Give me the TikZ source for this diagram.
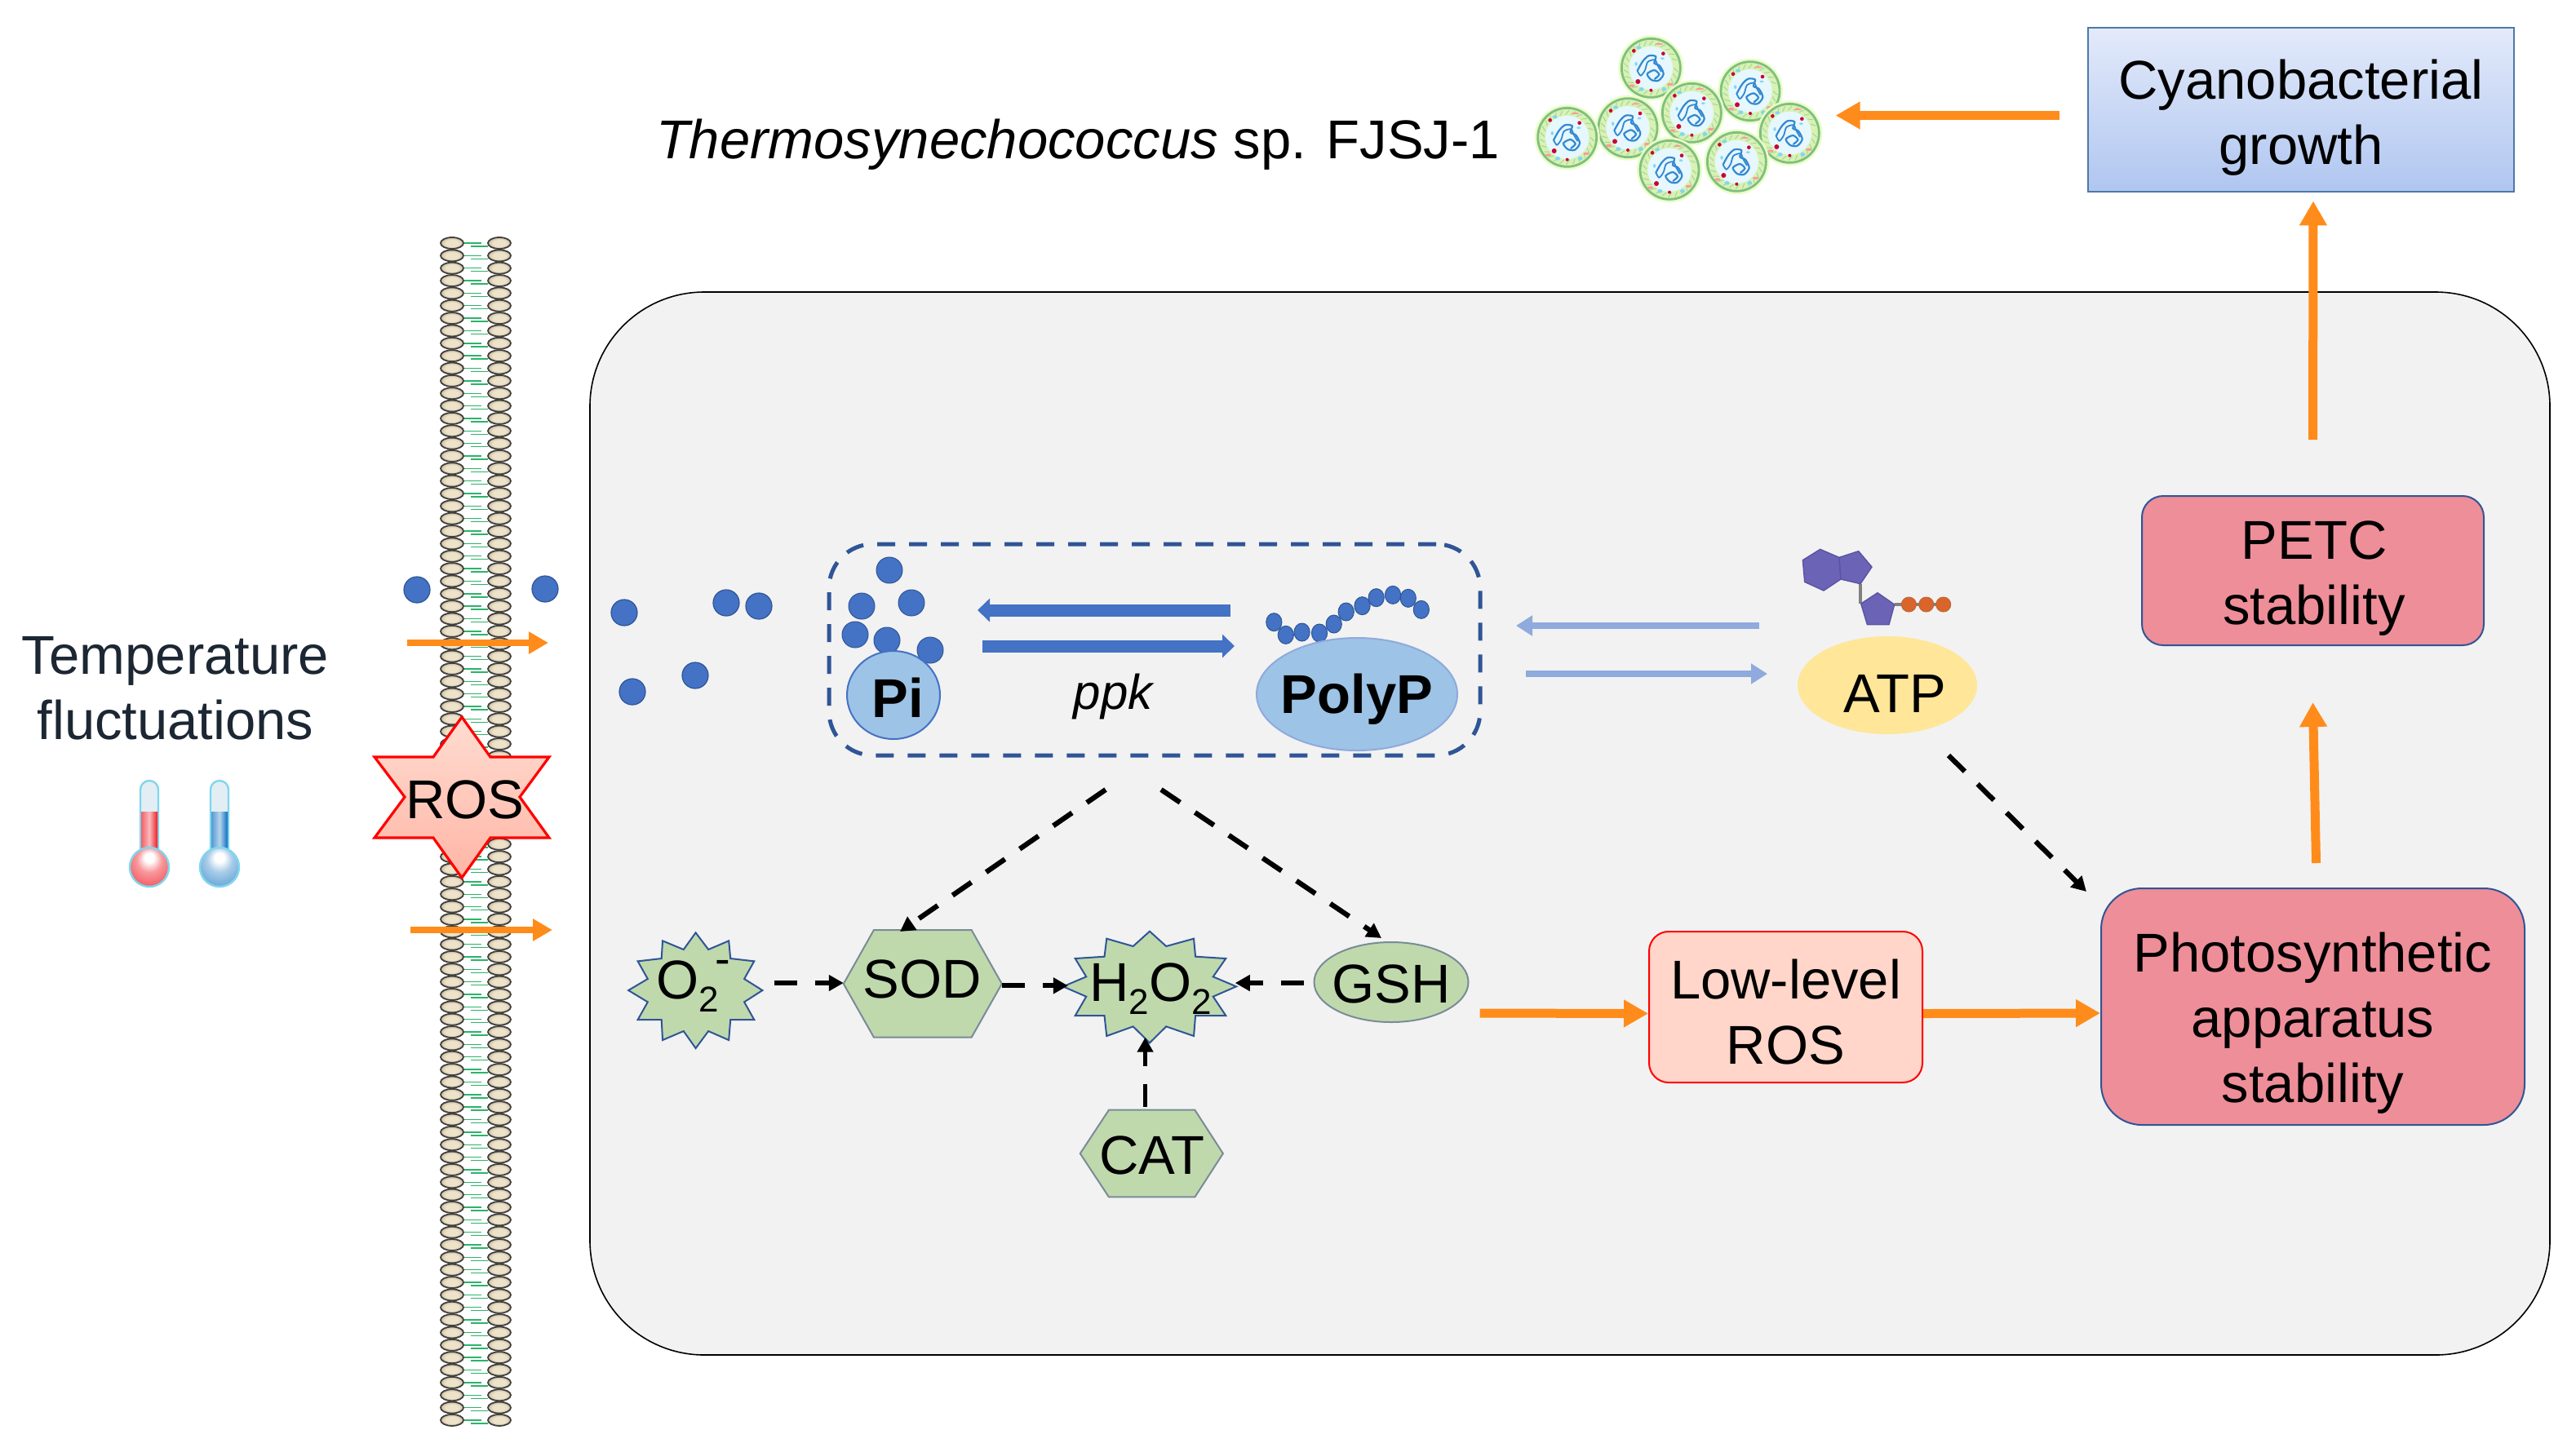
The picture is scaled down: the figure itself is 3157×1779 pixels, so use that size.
\documentclass[tikz,border=0pt]{standalone}
\usepackage{fontspec}
\setmainfont{Liberation Sans}
\usetikzlibrary{arrows.meta,calc,shapes.geometric}
\definecolor{cellgrey}{HTML}{F2F2F2}
\definecolor{flame}{HTML}{FF8C1A}
\definecolor{royal}{HTML}{4472C4}
\definecolor{navy}{HTML}{2F5597}
\definecolor{pale}{HTML}{8FAADC}
\definecolor{sky}{HTML}{9DC3E6}
\definecolor{leaf}{HTML}{BFD9AD}
\definecolor{rose}{HTML}{EE8E99}
\definecolor{peach}{HTML}{FFD6C9}
\definecolor{butter}{HTML}{FFE699}
\definecolor{ink}{HTML}{1C2733}
\definecolor{base}{HTML}{6B63B5}
\definecolor{baseedge}{HTML}{5A53A3}
\definecolor{phos}{HTML}{D9652B}
\definecolor{tubeglow}{HTML}{7FD7EE}
\definecolor{heat}{HTML}{EE1C25}
\definecolor{cold}{HTML}{0B6FBF}
\definecolor{tail}{HTML}{2DB36A}
\definecolor{beadmid}{HTML}{EDE3CB}
\definecolor{beadrim}{HTML}{AD9871}
\definecolor{skytop}{HTML}{E3EAFA}
\definecolor{skybottom}{HTML}{B0C6F0}
\definecolor{steel}{HTML}{4F79A8}
\pgfdeclareradialshading{redbulb}{\pgfpoint{0bp}{14bp}}{color(0bp)=(white);color(6bp)=(white);color(16bp)=(heat!45!white);color(30bp)=(heat!70!white);color(42bp)=(heat!90!white);color(50bp)=(heat)}
\pgfdeclareradialshading{bluebulb}{\pgfpoint{0bp}{14bp}}{color(0bp)=(white);color(6bp)=(white);color(16bp)=(cold!35!white);color(30bp)=(cold!60!white);color(42bp)=(cold!85!white);color(50bp)=(cold)}
\pgfdeclareradialshading{bead}{\pgfpoint{0bp}{0bp}}{color(0bp)=(beadmid);color(14bp)=(beadmid);color(36bp)=(beadrim);color(50bp)=(beadrim!80!black)}
\newcommand\subtwo{\raisebox{-0.24em}{\fontsize{22}{22}\selectfont 2}}
\tikzset{
  x=0.5pt,y=-0.5pt,
  label text/.style={font=\fontsize{33.5}{40}\selectfont,align=center,inner sep=0pt,text=black},
  flow/.style={draw=flame,line width=5.5pt,-{Triangle[length=15pt,width=16pt]}},
  thinflow/.style={draw=flame,line width=4pt,-{Triangle[length=12pt,width=13pt]}},
  pale arrow/.style={draw=pale,line width=4.2pt,-{Triangle[length=10pt,width=12pt]}},
  strong arrow/.style={draw=royal,line width=7.5pt,-{Triangle[length=7.5pt,width=14pt]}},
  regulate/.style={draw=black,line width=3.1pt,dash pattern=on 14pt off 11pt,-{Triangle[length=9pt,width=9.5pt]}},
  pdot/.style={circle,fill=royal,draw=navy,line width=0.6pt,minimum size=16pt,inner sep=0pt},
  chain dot/.style={ellipse,fill=royal,draw=navy,line width=0.5pt,minimum width=9.6pt,minimum height=11pt,inner sep=0pt},
  box/.style={draw=navy,line width=1pt,inner sep=0pt},
  enzyme/.style={fill=leaf,draw=black!40!cyan!35!gray,line width=1pt},
  burst/.style={fill=leaf,draw=navy,line width=1pt,line join=miter},
  cyanocell/.pic={
    \begin{scope}[x=0.1667pt,y=-0.1667pt]
      \fill[green!40!yellow!22!white] (0,0) circle (120);
      \fill[green!40!yellow!28!white!90!gray] (0,0) circle (110);
      \draw[green!50!black!50!white,line width=1.4pt] (0,0) circle (108);
      \foreach \a in {0,14,...,346}
        \draw[green!50!black!35!white,line width=0.5pt] (\a:84) -- (\a+8:100);
      \fill[cyan!10!white] (0,0) circle (80);
      \draw[cyan!60!blue!85!white,line width=1.1pt,line cap=round]
        plot[smooth] coordinates {(-50,10) (-30,-25) (-8,-45) (18,-42) (12,-18) (32,-8) (46,22) (28,46) (2,44) (-14,22) (12,8) (30,24) (14,40)};
      \draw[cyan!60!blue!85!white,line width=0.9pt]
        plot[smooth] coordinates {(-50,10) (-38,28) (-22,8) (-12,-22) (14,-30) (24,-10) (38,14)};
      \fill[purple!85!red] (-63,-63) circle (7) (45,-53) circle (7) (-48,50) circle (9) (0,82) circle (6);
      \fill[cyan!50!white] (-35,78) ellipse (9 and 7) (48,78) ellipse (9 and 7) (-45,-75) ellipse (9 and 6) (-55,-15) ellipse (5 and 7) (42,-35) ellipse (7 and 4);
      \fill[red!40!white] (-70,65) ellipse (11 and 5) (70,60) ellipse (11 and 5) (30,-88) ellipse (15 and 3);
    \end{scope}
  },
}
\begin{document}
\begin{tikzpicture}
\useasboundingbox[fill=white] (0,0) rectangle (3157,1779);

% Cell interior
\node[draw=black,line width=0.8pt,fill=cellgrey,rounded corners=70pt,minimum width=1201pt,minimum height=651.5pt,inner sep=0pt] (cell) at (1924,1009.5) {};

% Lipid bilayer
\foreach \i in {0,...,94} {
  \pgfmathsetmacro{\yy}{298+15.35*\i}
  \draw[tail,line width=0.7pt] (568,\yy) -- (590,\yy) (577,\yy+4) -- (598,\yy+4);
  \draw[black!75,line width=0.9pt,shading=bead] (554,\yy) ellipse (14 and 7);
  \draw[black!75,line width=0.9pt,shading=bead] (612,\yy) ellipse (14 and 7);
}

% Phosphate entering the cell
\node[pdot] (p1) at (511,723) {};
\node[pdot] (p2) at (668,722) {};
\node[pdot] (p3) at (765,751) {};
\node[pdot] (p4) at (890,739) {};
\node[pdot] (p5) at (930,743) {};
\node[pdot] (p6) at (775,848) {};
\node[pdot] (p7) at (852,828) {};

% Flux across the membrane
\coordinate (inA) at (499,788);
\coordinate (inAend) at (672,788);
\coordinate (inB) at (503,1140);
\coordinate (inBend) at (677,1140);
\draw[thinflow] (inA) -- (inAend);
\draw[thinflow] (inB) -- (inBend);

% Heat stress label and thermometers
\node[label text,text=ink] (temp) at (215,844) {Temperature\\fluctuations};
\foreach \cx/\liq/\bulb in {183/heat/redbulb,269/cold/bluebulb} {
  \draw[tubeglow,line width=1.2pt,fill=cyan!8!white!90!gray] (\cx-11,1045) -- (\cx-11,968) arc[start angle=180,end angle=360,radius=11] -- (\cx+11,1045) -- cycle;
  \shade[left color=\liq!70!white,right color=\liq,middle color=\liq!30!white] (\cx-10,995) rectangle (\cx+10,1048);
  \draw[tubeglow,line width=1.2pt,shading=\bulb] (\cx,1063) circle (24);
}

% Reactive oxygen star
\draw[top color=peach!85!white,bottom color=orange!35!red!35!white,draw=red,line width=1.6pt,line join=miter]
  (566,879) -- (601,928) -- (673,928) -- (637,977) -- (673,1027) -- (601,1027) -- (566,1076)
  -- (531,1027) -- (459,1027) -- (496,977) -- (459,928) -- (531,928) -- cycle;
\node[label text] (ros) at (570,980) {ROS};

% Colony
\node[label text,anchor=center] (strain) at (1321,177) {\textit{Thermosynechococcus} sp. FJSJ-1};
\foreach \cx/\cy in {520/190,885/275,670/355,435/410,1030/430,212/445,835/535,588/565}
  \pic at ({1850+\cx/3},{20+\cy/3}) {cyanocell};

% Top-right boxes
\node[box,draw=steel,line width=1.4pt,top color=skytop,bottom color=skybottom,minimum width=261pt,minimum height=100.5pt] (growth) at (2820,134.5) {};
\node[label text] (growthtext) at (2820,144.5) {Cyanobacterial\\growth};
\node[box,fill=rose,rounded corners=13pt,minimum width=209.5pt,minimum height=91.5pt] (petc) at (2834.5,699.5) {};
\node[label text] (petctext) at (2836,709.5) {PETC\\stability};
\node[box,fill=rose,rounded corners=25pt,minimum width=259.5pt,minimum height=145pt] (photo) at (2834.5,1234) {};
\node[label text] (phototext) at (2834.5,1254) {Photosynthetic\\apparatus\\stability};
\node[box,draw=red,fill=peach,rounded corners=12pt,minimum width=167.5pt,minimum height=92.5pt] (low) at (2188.5,1234.5) {};
\node[label text] (lowtext) at (2188.5,1241) {Low-level\\ROS};

\draw[flow] ([shift={(-34,7)}]growth.west) -- ([shift={(-308,7)}]growth.west);
\draw[flow] ([shift={(0,-68)}]petc.north) -- ([shift={(15,10)}]growth.south);
\draw[flow] ([shift={(4,-30)}]photo.north) -- ([shift={(0,69)}]petc.south);

% Polyphosphate pool
\node[draw=navy,line width=2.5pt,dash pattern=on 11pt off 8.5pt,rounded corners=27pt,minimum width=399pt,minimum height=129.5pt,inner sep=0pt] (pool) at (1415,796.5) {};
\foreach \dx/\dy in {1090/699,1056/743,1117/739,1048/778,1087/785,1140/797}
  \node[chain dot,minimum width=16pt,minimum height=16pt] at (\dx,\dy) {};
\node[ellipse,fill=sky,draw=royal,line width=1pt,minimum width=57pt,minimum height=54pt,inner sep=0pt] (pi) at (1095,852) {};
\node[label text] (pitext) at (1100,855) {\textbf{Pi}};
\foreach \cx/\cy in {1048/338,1075/385,1112/375,1152/378,1185/345,1213/300,1250/278,1282/248,1320/238,1355/250,1385/292}
  \node[chain dot] at ({1000+\cx/1.867},{650+\cy/3}) {};
\node[ellipse,fill=sky,draw=pale,line width=1pt,minimum width=123pt,minimum height=69pt,inner sep=0pt] (polyp) at (1663,851) {};
\node[label text] (polyptext) at (1663,857) {\textbf{PolyP}};
\node[label text,font=\fontsize{30}{36}\selectfont\itshape] (ppk) at (1364,854) {ppk};
\coordinate (revA) at (1508,748);
\coordinate (revB) at (1198,748);
\coordinate (fwdA) at (1204,792);
\coordinate (fwdB) at (1513,792);
\draw[strong arrow] (revA) -- (revB);
\draw[strong arrow] (fwdA) -- (fwdB);

% ATP
\node[ellipse,fill=butter,minimum width=110pt,minimum height=60pt,inner sep=0pt] (atp) at (2313,840) {};
\node[label text] (atptext) at (2322,850) {ATP};
\begin{scope}[shift={(2180,650)},x=0.1667pt,y=-0.1667pt]
  \draw[gray,line width=1.6pt] (300,197) -- (300,270) (425,273) -- (605,273);
  \draw[fill=base,draw=baseedge,line width=0.7pt,line join=round]
    (152,70) -- (222,100) -- (228,180) -- (165,222) -- (95,190) -- (88,110) -- cycle;
  \draw[fill=base,draw=baseedge,line width=0.7pt,line join=round]
    (222,100) -- (293,77) -- (342,135) -- (300,197) -- (228,180) -- cycle;
  \draw[fill=base,draw=baseedge,line width=0.7pt,line join=round]
    (363,230) -- (425,273) -- (405,347) -- (325,347) -- (302,270) -- cycle;
  \foreach \px in {478,542,605}
    \draw[fill=phos,draw=phos!85!black!90!white,line width=0.5pt] (\px,273) circle (27);
\end{scope}
\coordinate (atpA) at (2156,767);
\coordinate (atpB) at (1858,767);
\coordinate (atpC) at (1870,826);
\coordinate (atpD) at (2166,826);
\draw[pale arrow] (atpA) -- (atpB);
\draw[pale arrow] (atpC) -- (atpD);

% Antioxidant shapes, outlined in enlarged local coordinates
\begin{scope}[shift={(760,1120)},x=0.338pt,y=-0.1667pt]
  \draw[burst] (137,70) -- (160,132) -- (197,100) -- (200,165) -- (243,175) -- (225,240) -- (258,282) -- (225,325) -- (243,390) -- (200,390) -- (197,465) -- (160,432) -- (137,495) -- (115,432) -- (77,465) -- (75,390) -- (32,390) -- (50,325) -- (15,282) -- (50,240) -- (32,175) -- (75,165) -- (77,100) -- (115,132) -- cycle;
  \draw[burst] (960,65) -- (990,120) -- (1040,92) -- (1043,158) -- (1098,165) -- (1075,232) -- (1117,268) -- (1075,305) -- (1098,375) -- (1043,375) -- (1040,450) -- (990,415) -- (960,475) -- (930,415) -- (882,450) -- (878,375) -- (825,375) -- (845,305) -- (803,268) -- (845,232) -- (825,165) -- (878,158) -- (882,92) -- (930,120) -- cycle;
  \draw[enzyme] (460,60) -- (637,60) -- (692,258) -- (637,455) -- (460,455) -- (405,258) -- cycle;
  \draw[enzyme] (886,722) -- (1042,722) -- (1093,882) -- (1042,1042) -- (886,1042) -- (834,882) -- cycle;
  \coordinate (o2E) at (280,255);
  \coordinate (sodW) at (405,255);
  \coordinate (sodE) at (692,265);
  \coordinate (h2W) at (812,265);
  \coordinate (h2E) at (1115,255);
  \coordinate (gshW) at (1240,255);
  \coordinate (catN) at (952,710);
  \coordinate (h2S) at (952,455);
\end{scope}
\node[ellipse,enzyme,minimum width=94.5pt,minimum height=49pt,inner sep=0pt] (gsh) at (1705,1204) {};
\node[label text] (gshtext) at (1705,1206) {GSH};
\node[label text] (o2) at (850,1209) {O\subtwo\hspace{-2pt}\raisebox{0.45em}{\fontsize{28}{28}\selectfont -}};
\node[label text] (sod) at (1130,1200) {SOD};
\node[label text] (h2o2) at (1410,1212) {H\subtwo O\subtwo};
\node[label text] (cat) at (1412,1416) {CAT};

% Regulatory links
\coordinate (poolL) at (1355,968);
\coordinate (poolR) at (1423,968);
\coordinate (sodN) at (1103,1142);
\coordinate (gshN) at (1693,1150);
\coordinate (atpS) at (2388,926);
\coordinate (photoC) at (2557,1093);
\draw[regulate] (poolL) -- (sodN);
\draw[regulate] (poolR) -- (gshN);
\draw[regulate] (atpS) -- (photoC);
\draw[regulate] (o2E) -- (sodW);
\draw[regulate] (sodE) -- (h2W);
\draw[regulate] (gshW) -- (h2E);
\draw[regulate,line width=2.4pt] (catN) -- (h2S);

% Main flow to the photosynthetic apparatus
\draw[flow] ([shift={(13,38)}]gsh.east) -- ([yshift=-4pt]low.west);
\draw[flow] ([yshift=-4pt]low.east) -- ([yshift=-4pt]photo.west);
\end{tikzpicture}
\end{document}
